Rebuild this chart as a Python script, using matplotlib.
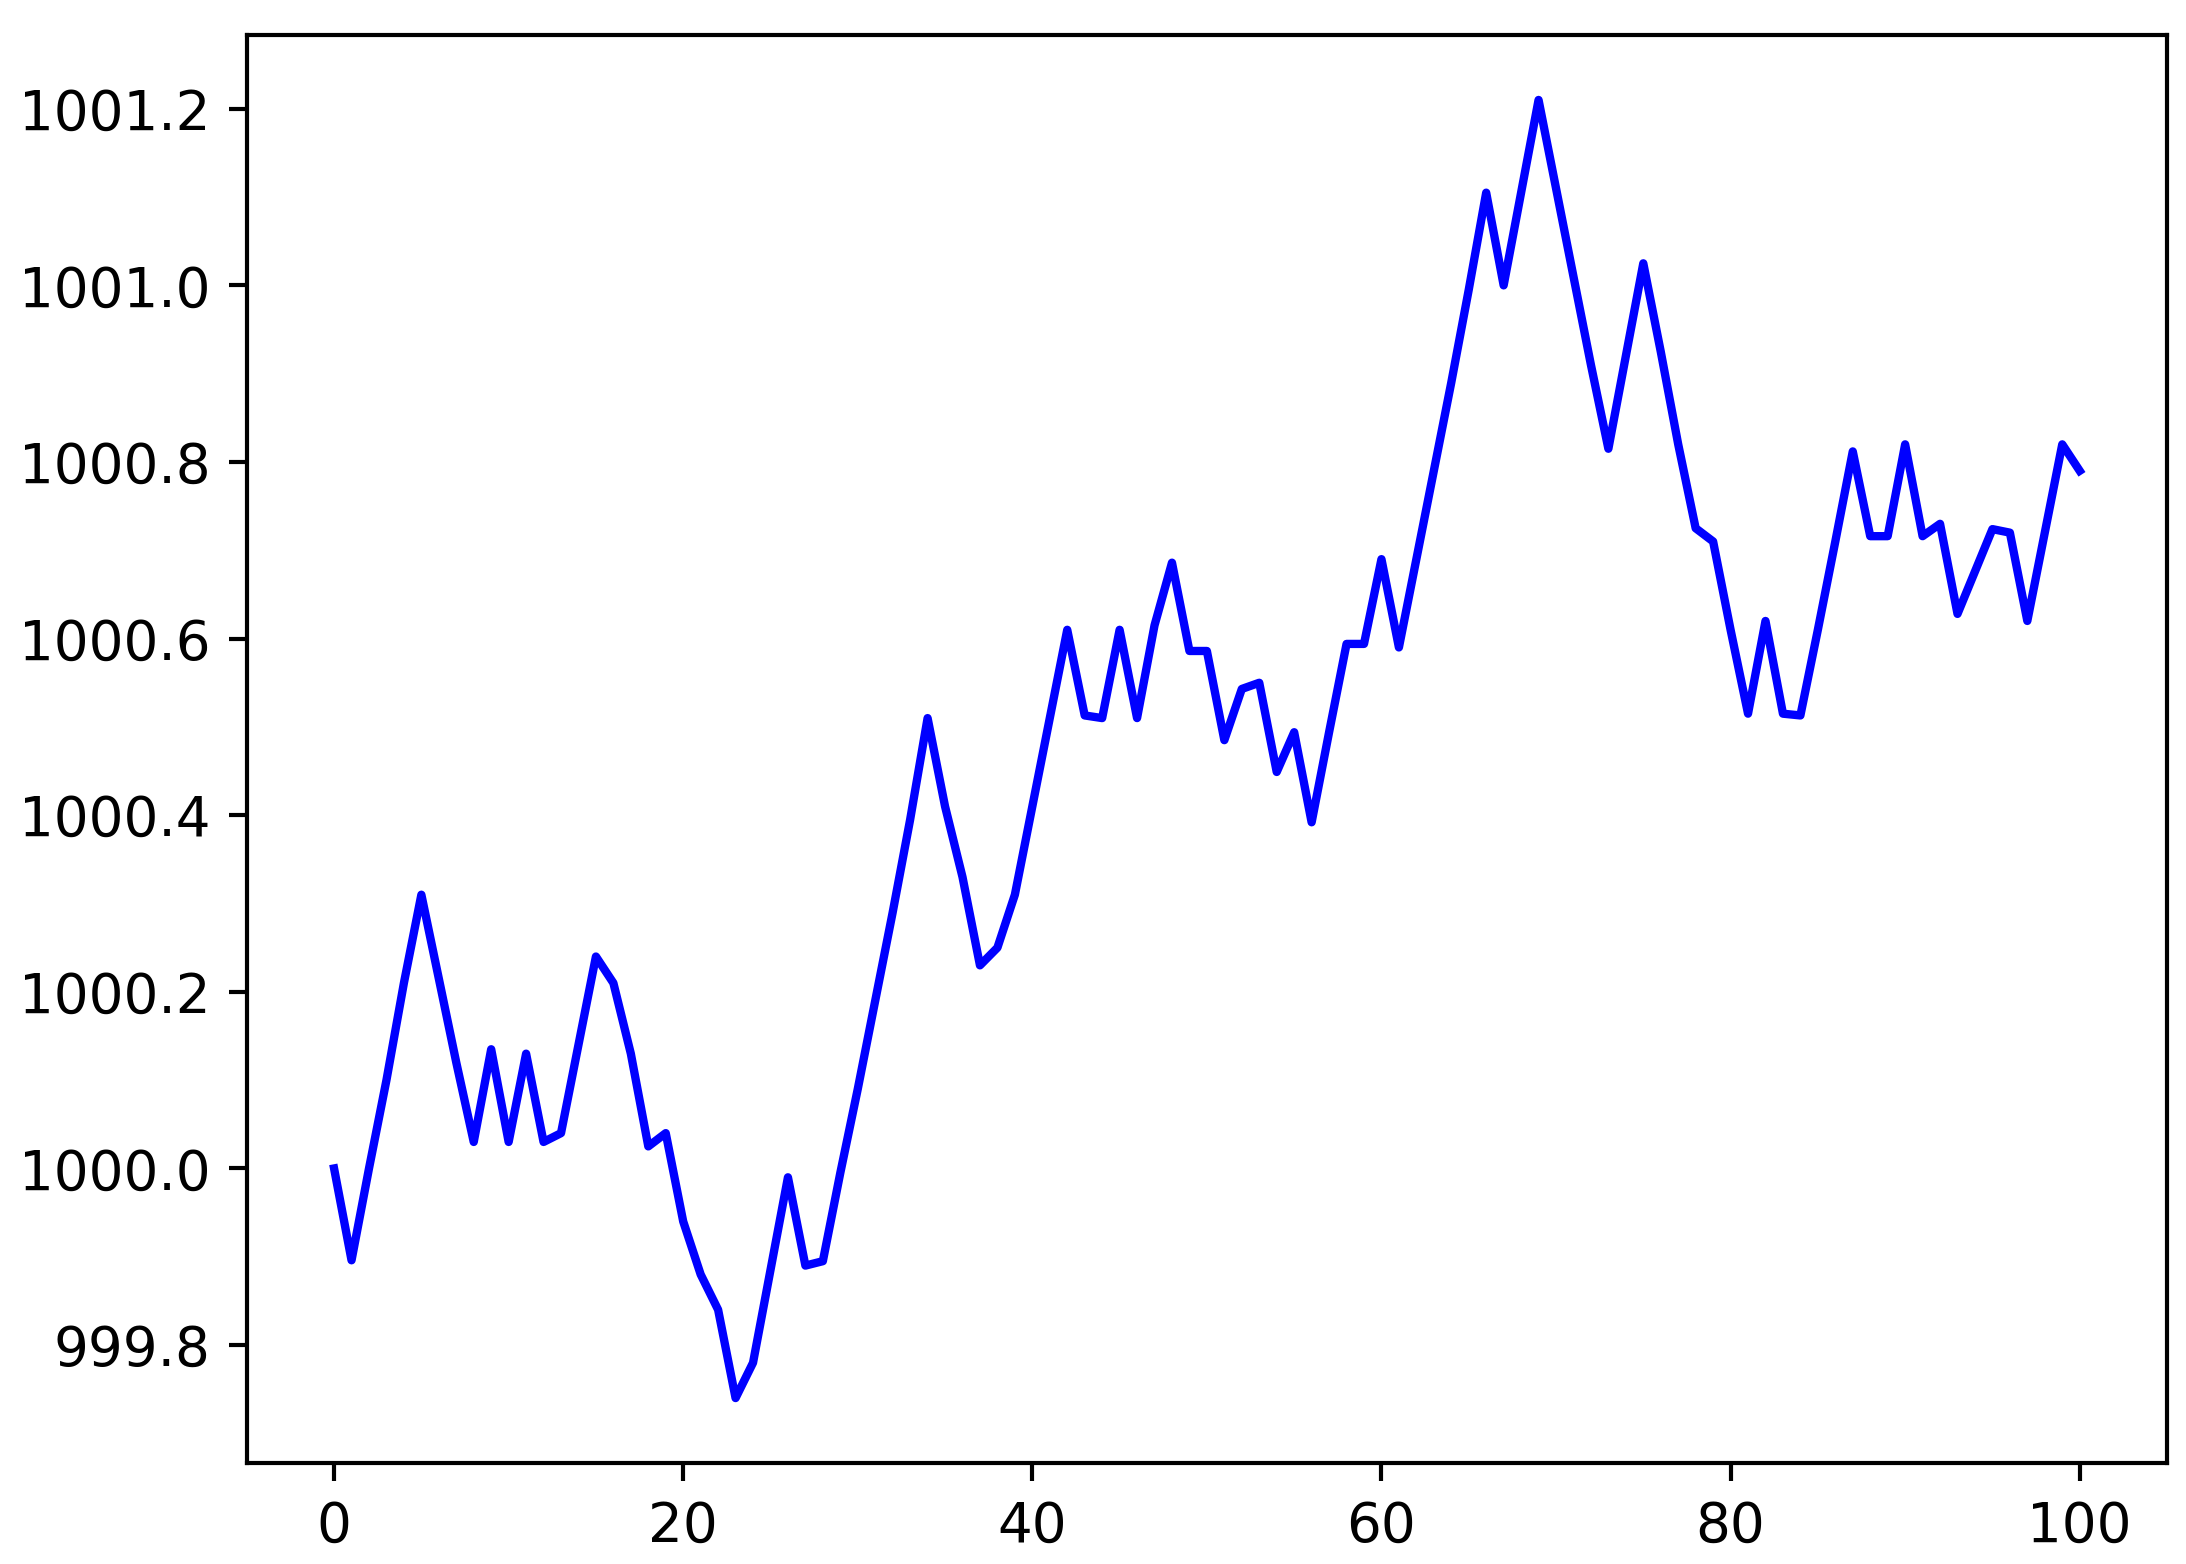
import numpy as np
import matplotlib
matplotlib.use('Agg')
import matplotlib.pyplot as plt

# step index 0..100
steps = np.arange(101)

# value at each step
values = [
    1000.00, 999.896, 1000.00, 1000.10, 1000.21, 1000.31, 1000.215, 1000.12, 1000.03, 1000.135,
    1000.03, 1000.13, 1000.03, 1000.04, 1000.14, 1000.24, 1000.21, 1000.13, 1000.025, 1000.04,
    999.94, 999.88, 999.84, 999.74, 999.78, 999.885, 999.99, 999.89, 999.895, 999.995,
    1000.09, 1000.19, 1000.29, 1000.395, 1000.51, 1000.41, 1000.33, 1000.23, 1000.25, 1000.31,
    1000.41, 1000.51, 1000.61, 1000.513, 1000.51, 1000.61, 1000.51, 1000.615, 1000.686, 1000.586,
    1000.586, 1000.485, 1000.543, 1000.55, 1000.449, 1000.494, 1000.392, 1000.494, 1000.594, 1000.594,
    1000.69, 1000.59, 1000.69, 1000.79, 1000.89, 1000.995, 1001.105, 1001.00, 1001.105, 1001.21,
    1001.11, 1001.01, 1000.91, 1000.815, 1000.92, 1001.025, 1000.925, 1000.82, 1000.725, 1000.71,
    1000.61, 1000.515, 1000.62, 1000.515, 1000.513, 1000.61, 1000.71, 1000.812, 1000.716, 1000.716,
    1000.82, 1000.716, 1000.73, 1000.628, 1000.676, 1000.724, 1000.72, 1000.62, 1000.72, 1000.82,
    1000.79,
]

plt.rcParams['font.size'] = 10.5

dpi = 375
fig = plt.figure(figsize=(2186 / dpi, 1564 / dpi), dpi=dpi)
ax = fig.add_axes([0.1129, 0.0646, 0.9913 - 0.1129, 0.9776 - 0.0646])
ax.plot(steps, values, color='b', linewidth=1.6)
ax.ticklabel_format(useOffset=False)

fig.savefig('out.png', dpi=dpi)
